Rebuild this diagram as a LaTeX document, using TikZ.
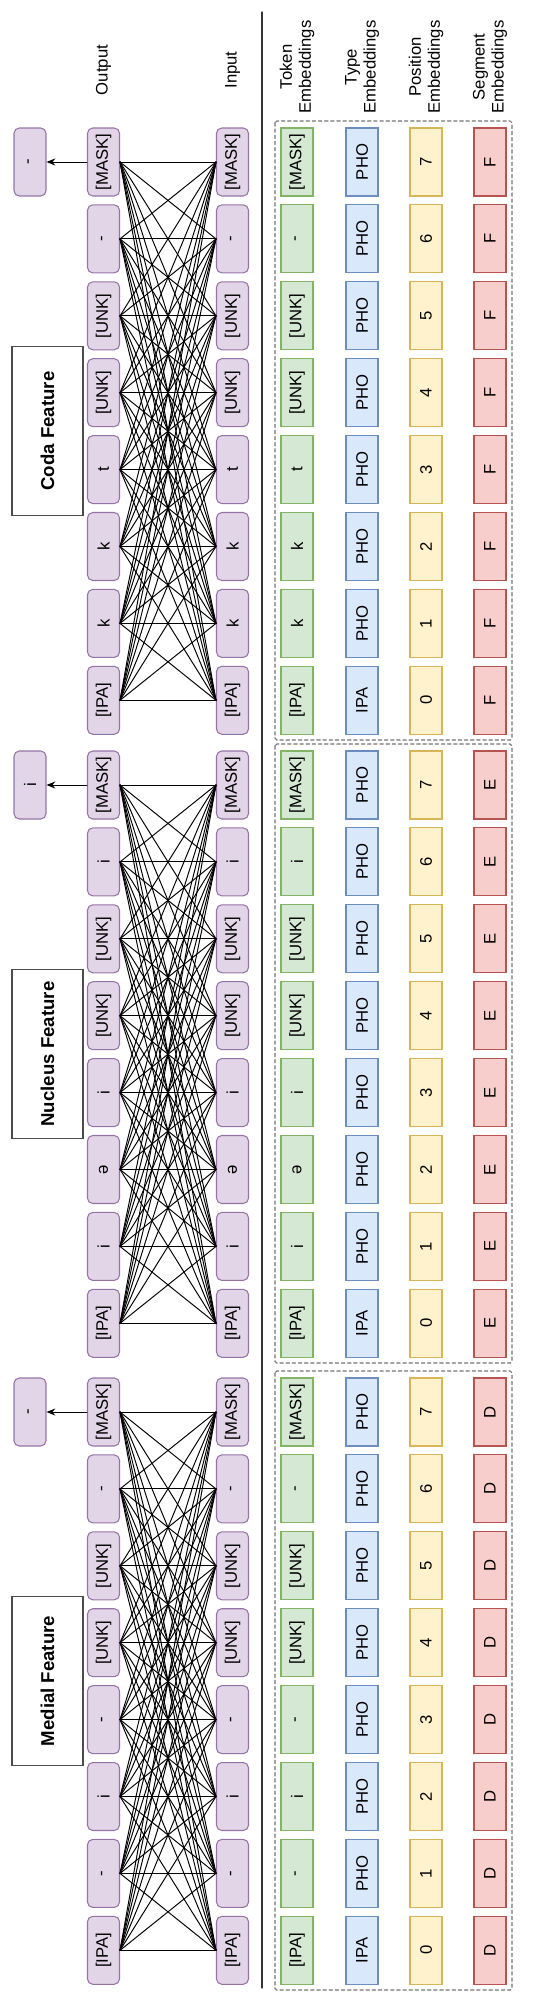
\documentclass[tikz,border=0pt]{standalone}
\usepackage{fontspec}
\setmainfont{Liberation Sans}
\usetikzlibrary{arrows.meta}

\begin{document}
\begin{tikzpicture}
	[x=0.02cm,y=-0.02cm,line cap=round,
	%Styles
	word/.style={rotate=90,draw=wordline,fill=wordfill,rounded corners=3pt,line width=0.6pt,
		minimum width=1.36cm,minimum height=0.64cm,inner sep=0pt,font=\fontsize{9.5}{11}\selectfont},
	emb/.style={rotate=90,draw=#1line,fill=#1fill,line width=0.6pt,
		minimum width=1.36cm,minimum height=0.64cm,inner sep=0pt,font=\fontsize{9.5}{11}\selectfont},
	label text/.style={rotate=90,align=center,inner sep=0pt,font=\fontsize{9.5}{10.8}\selectfont},
	title box/.style={rotate=90,draw=black!70,line width=0.6pt,minimum width=3.38cm,minimum height=1.42cm,
		font=\fontsize{10.6}{12}\selectfont\bfseries},
	link/.style={line width=0.55pt},
	dashed frame/.style={draw=black!55,line width=0.6pt,dash pattern=on 2pt off 1.5pt,rounded corners=1pt}
	]
	
	%Colors
	\definecolor{wordfill}{HTML}{E1D5E7}	\definecolor{wordline}{HTML}{9673A6}
	\definecolor{tokenfill}{HTML}{D5E8D4}	\definecolor{tokenline}{HTML}{82B366}
	\definecolor{typefill}{HTML}{DAE8FC}	\definecolor{typeline}{HTML}{6C8EBF}
	\definecolor{posfill}{HTML}{FFF2CC}		\definecolor{posline}{HTML}{D6B656}
	\definecolor{segfill}{HTML}{F8CECC}		\definecolor{segline}{HTML}{B85450}
	
	\useasboundingbox (0,0) rectangle (553,2000);
	
	%Headers
	\node[label text] (output) at (103.5,70) {Output};
	\node[label text] (input) at (232.5,70) {Input};
	\node[label text] (h-token) at (297,67) {Token\\Embeddings};
	\node[label text] (h-type) at (362,67) {Type\\Embeddings};
	\node[label text] (h-pos) at (426,67) {Position\\Embeddings};
	\node[label text] (h-seg) at (490,67) {Segment\\Embeddings};
	\draw[black!80,line width=0.6pt] (262,12) -- (262,1988);
	
	%Tokens of each feature
	\foreach \k/\w in {0/[MASK],1/-,2/[UNK],3/[UNK],4/t,5/k,6/k,7/[IPA]}{
		\node[word] (out-c\k) at (103.5,{162+76.9*\k}) {\w};
		\node[word] (in-c\k) at (232.5,{162+76.9*\k}) {\w};
		\node[emb=token] (tok-c\k) at (297,{162+76.9*\k}) {\w};
	}
	\foreach \k/\w in {0/[MASK],1/i,2/[UNK],3/[UNK],4/i,5/ə,6/i,7/[IPA]}{
		\node[word] (out-n\k) at (103.5,{785+76.9*\k}) {\w};
		\node[word] (in-n\k) at (232.5,{785+76.9*\k}) {\w};
		\node[emb=token] (tok-n\k) at (297,{785+76.9*\k}) {\w};
	}
	\foreach \k/\w in {0/[MASK],1/-,2/[UNK],3/[UNK],4/-,5/i,6/-,7/[IPA]}{
		\node[word] (out-m\k) at (103.5,{1412+76.9*\k}) {\w};
		\node[word] (in-m\k) at (232.5,{1412+76.9*\k}) {\w};
		\node[emb=token] (tok-m\k) at (297,{1412+76.9*\k}) {\w};
	}
	
	%The graphic
	\foreach \g/\y/\s/\r/\name in {c/162/F/-/Coda,n/785/E/i/Nucleus,m/1412/D/-/Medial}{
		\foreach \k in {0,...,7}{
			\pgfmathtruncatemacro\p{7-\k}
			\node[emb=type] (typ-\g\k) at (362,{\y+76.9*\k}) {\ifnum\k=7 IPA\else PHO\fi};
			\node[emb=pos] (pos-\g\k) at (426,{\y+76.9*\k}) {\p};
			\node[emb=seg] (seg-\g\k) at (490,{\y+76.9*\k}) {\s};
		}
		\foreach \a in {0,...,7}
			\foreach \b in {0,...,7}
				\draw[link] (out-\g\a.south) -- (in-\g\b.north);
		\node[word] (res-\g) at (30,\y) {\r};
		\draw[link,-{Stealth[length=5pt,width=4pt]}] (out-\g0.north) -- (res-\g.south);
		\node[title box] (title-\g) at (47.5,\y+269) {\name\ Feature};
		\draw[dashed frame] (275,\y-41) rectangle (512,\y+578);
	}
\end{tikzpicture}
\end{document}
